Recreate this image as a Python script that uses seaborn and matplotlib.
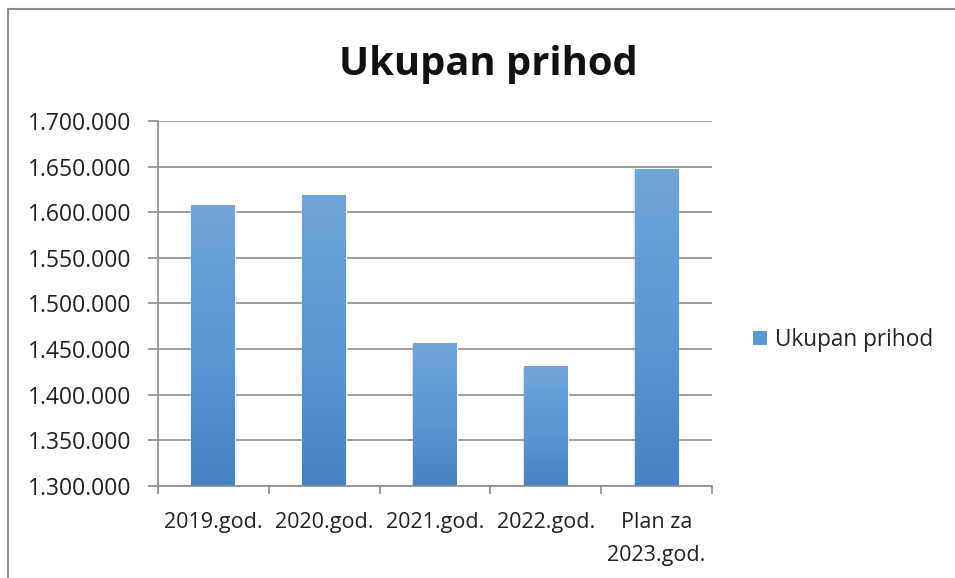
import numpy as np
import pandas as pd
import matplotlib
matplotlib.use("Agg")
import matplotlib.pyplot as plt
import seaborn as sns
from matplotlib.colors import LinearSegmentedColormap
from matplotlib.patches import Rectangle
from matplotlib.ticker import FuncFormatter, FixedLocator

categories = ["2019.god.", "2020.god.", "2021.god.", "2022.god.", "Plan za\n2023.god."]
values = [1607300, 1618200, 1456600, 1431300, 1646400]
series_name = "Ukupan prihod"
y_ticks = [1300000, 1350000, 1400000, 1450000, 1500000, 1550000, 1600000, 1650000, 1700000]

sns.set_theme(style="white")
plt.rcParams["font.family"] = ["Open Sans", "DejaVu Sans"]

df = pd.DataFrame({"kategorija": categories, "prihod": values})

fig = plt.figure(figsize=(9.55, 5.78), dpi=100)
ax = fig.add_axes([0.1654, 0.1592, 0.5801, 0.6315])

sns.barplot(data=df, x="kategorija", y="prihod", ax=ax, color="#5B9BD5",
            width=0.395, saturation=1, zorder=3)

y_lo, y_hi = y_ticks[0], y_ticks[-1]

# gradient fill for each bar (lighter top, darker bottom)
grad = LinearSegmentedColormap.from_list("bar", ["#4584C4", "#5A98D6", "#70A5DB"])
gimg = np.linspace(0, 1, 256).reshape(-1, 1)
for patch in ax.patches[:]:
    x0, w = patch.get_x(), patch.get_width()
    top = patch.get_y() + patch.get_height()
    # soft shadow around the bar edges
    for dx, a in ((0.006, 0.10), (0.012, 0.05)):
        ax.add_patch(Rectangle((x0 - dx, y_lo), w + 2 * dx, top - y_lo - 600,
                               facecolor="#000000", alpha=a, edgecolor="none", zorder=2))
    ax.imshow(gimg, cmap=grad, origin="lower", aspect="auto",
              extent=(x0, x0 + w, y_lo, top), zorder=4)

ax.set_xlim(-0.5, len(categories) - 0.5)
ax.set_ylim(y_lo, y_hi)
ax.yaxis.set_major_locator(FixedLocator(y_ticks))
ax.yaxis.set_major_formatter(FuncFormatter(lambda v, p: f"{int(v):,}".replace(",", ".")))

ax.yaxis.grid(True, color="#8C8C8C", linewidth=1.2, zorder=0)
ax.xaxis.grid(False)
for side in ["top", "right"]:
    ax.spines[side].set_visible(False)
for side in ["left", "bottom"]:
    ax.spines[side].set_color("#8C8C8C")
    ax.spines[side].set_linewidth(1.2)
    ax.spines[side].set_zorder(5)

ax.set_xlabel("")
ax.set_ylabel("")
ax.set_xticks(np.arange(len(categories)))
ax.set_xticklabels(categories)
for lbl in ax.get_xticklabels():
    lbl.set_linespacing(1.75)
ax.set_xticks(np.arange(-0.5, len(categories)), minor=True)
ax.tick_params(axis="x", which="major", length=0, pad=18.5, labelsize=15.5, labelcolor="#222222")
ax.tick_params(axis="x", which="minor", length=6, width=1.2, color="#8C8C8C", direction="out", bottom=True)
ax.tick_params(axis="y", which="major", length=7, width=1.2, color="#8C8C8C", direction="out",
               left=True, pad=12, labelsize=16.5, labelcolor="#222222")

fig.text(488 / 955, 0.889, "Ukupan prihod", ha="center", va="center",
         fontsize=28.7, fontweight="bold", color="#111111")

handle = Rectangle((0, 0), 1, 1, facecolor="#5B9BD5", edgecolor="none")
fig.legend([handle], [series_name], loc="center left", bbox_to_anchor=(753 / 955, 0.412),
           frameon=False, fontsize=16.3, handlelength=0.6, handleheight=0.6,
           handletextpad=0.35, borderaxespad=0, borderpad=0)

# chart area border
fig.patches.append(Rectangle((8 / 955, -0.1), 1.2, 1 - 9 / 578 + 0.1,
                             transform=fig.transFigure, fill=False,
                             edgecolor="#8C8C8C", linewidth=1.5))

fig.savefig("out.png", dpi=100)
